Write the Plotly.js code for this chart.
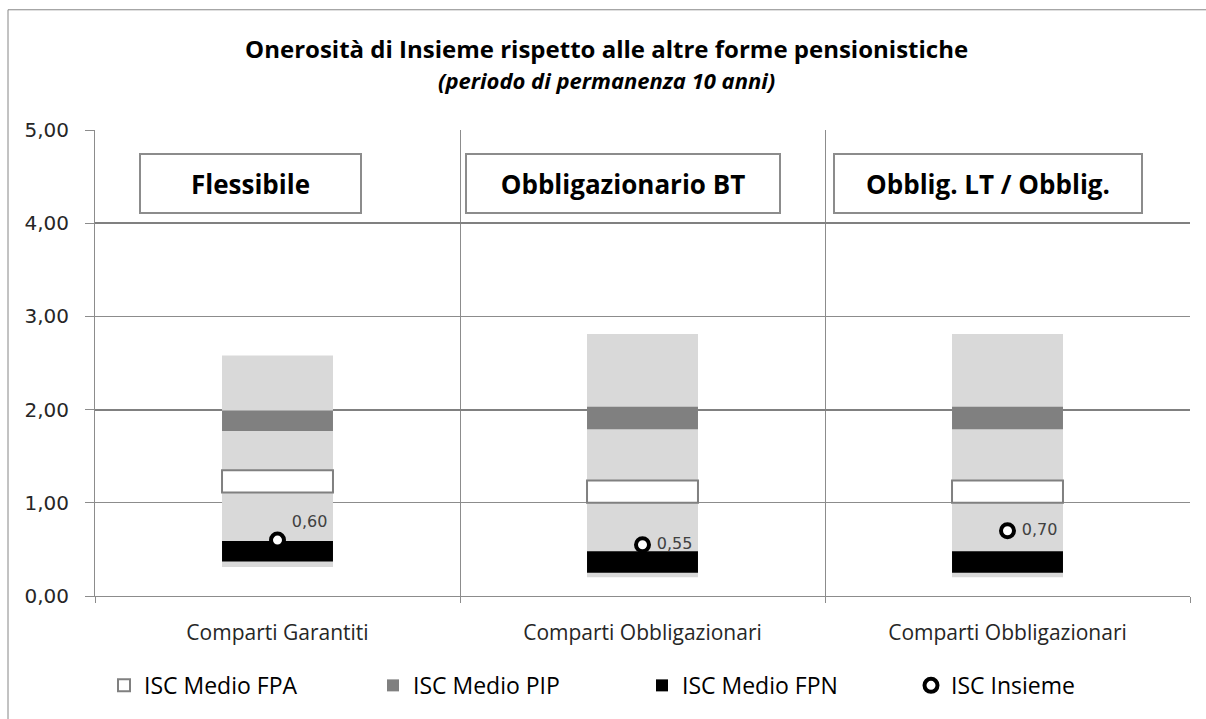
<!DOCTYPE html>
<html>
<head>
<meta charset="utf-8">
<script src="https://cdn.plot.ly/plotly-3.0.1.min.js"></script>
<style>html,body{margin:0;padding:0;background:#fff;}#chart{width:1206px;height:719px;}</style>
</head>
<body>
<div id="chart"></div>
<script>
// ---- data ----
const categories = ['Comparti Garantiti', 'Comparti Obbligazionari', 'Comparti Obbligazionari'];
const boxLabels = ['Flessibile', 'Obbligazionario BT', 'Obblig. LT / Obblig.'];
const rangeMin = [0.31, 0.20, 0.20];
const rangeMax = [2.58, 2.81, 2.81];
const fpaLow  = [1.11, 1.00, 1.00];
const fpaHigh = [1.35, 1.24, 1.24];
const pipLow  = [1.77, 1.79, 1.79];
const pipHigh = [1.99, 2.03, 2.03];
const fpnLow  = [0.37, 0.25, 0.25];
const fpnHigh = [0.59, 0.48, 0.48];
const insieme = [0.60, 0.55, 0.70];
const yTicks = [0, 1, 2, 3, 4, 5];
const yMajor = [2, 4];

const xs = categories.map((c, i) => i);
const diff = (hi, lo) => hi.map((v, i) => +(v - lo[i]).toFixed(3));
const BW = 0.304;

const traces = [
  {type: 'bar', x: xs, y: diff(rangeMax, rangeMin), base: rangeMin, width: BW,
   marker: {color: '#d9d9d9'}, showlegend: false, hoverinfo: 'skip'},
  {type: 'bar', name: 'ISC Medio FPA', x: xs, y: diff(fpaHigh, fpaLow), base: fpaLow, width: BW,
   marker: {color: '#ffffff', line: {color: '#808080', width: 2}}},
  {type: 'bar', name: 'ISC Medio PIP', x: xs, y: diff(pipHigh, pipLow), base: pipLow, width: BW,
   marker: {color: '#808080', line: {width: 0}}},
  {type: 'bar', name: 'ISC Medio FPN', x: xs, y: diff(fpnHigh, fpnLow), base: fpnLow, width: BW,
   marker: {color: '#000000', line: {width: 0}}},
  {type: 'scatter', mode: 'markers+text', name: 'ISC Insieme', x: xs, y: insieme,
   marker: {symbol: 'circle', size: 13, color: '#ffffff', line: {color: '#000000', width: 4}},
   texttemplate: ' %{y:.2f}', textposition: ['top right', 'middle right', 'middle right'],
   textfont: {family: 'DejaVu Sans', size: 16, color: '#404040'}, cliponaxis: false}
];

const L = 95, R = 1190, T = 130, B = 599;
const px2x = p => (p - L) / (R - L);
const px2y = p => (B - p) / (B - T);
const boxCenters = [250.5, 623, 987.7];
const boxWidths = [219, 312, 306];

const annotations = boxLabels.map((t, i) => ({
  text: '<b>' + t + '</b>', xref: 'paper', yref: 'paper',
  x: px2x(boxCenters[i]), y: px2y(184), xanchor: 'center', yanchor: 'middle',
  showarrow: false, width: boxWidths[i], height: 57, borderpad: 0,
  bordercolor: '#8c8c8c', borderwidth: 2, bgcolor: '#ffffff',
  font: {family: 'Open Sans', size: 26, color: '#000000'}
}));

const layout = {
  width: 1206, height: 719,
  margin: {l: L, r: 1206 - R, t: T, b: 719 - B, pad: 0},
  paper_bgcolor: '#ffffff', plot_bgcolor: '#ffffff',
  separators: ',.',
  barmode: 'overlay',
  hovermode: false,
  title: {
    text: '<b>Onerosità di Insieme rispetto alle altre forme pensionistiche</b><br><b><i><span style="font-size:22px">(periodo di permanenza 10 anni)</span></i></b>',
    font: {family: 'Open Sans', size: 24, color: '#000000'},
    xref: 'container', x: 0.503, xanchor: 'center',
    yref: 'container', y: 1 - 58 / 719, yanchor: 'top'
  },
  xaxis: {
    range: [-0.5, 2.5], tickmode: 'array', tickvals: xs, ticktext: categories,
    ticks: '', showgrid: false, zeroline: false,
    showline: true, linecolor: '#8c8c8c', linewidth: 1,
    tickfont: {family: 'Open Sans', size: 21, color: '#262626'},
    ticklabelstandoff: 18,
    minor: {tick0: -0.5, dtick: 1, ticks: 'outside', ticklen: 6, tickcolor: '#8c8c8c',
            showgrid: true, gridcolor: '#8c8c8c', gridwidth: 1},
    fixedrange: true
  },
  yaxis: {
    range: [0, 5], tickmode: 'array', tickvals: yTicks, tickformat: '.2f',
    ticks: 'outside', ticklen: 9, tickcolor: '#8c8c8c',
    showgrid: true, gridcolor: '#8c8c8c', gridwidth: 1, zeroline: false,
    showline: true, linecolor: '#8c8c8c', linewidth: 1,
    tickfont: {family: 'DejaVu Sans', size: 20, color: '#262626'},
    ticklabelstandoff: 12, fixedrange: true
  },
  yaxis2: {
    overlaying: 'y', range: [0, 5], tickmode: 'array', tickvals: yMajor,
    showticklabels: false, ticks: '', showgrid: true, gridcolor: '#808080', gridwidth: 2,
    zeroline: false, showline: false, fixedrange: true
  },
  legend: {
    orientation: 'h', xref: 'paper', yref: 'paper',
    x: px2x(104), xanchor: 'left', y: px2y(689), yanchor: 'middle',
    entrywidth: 224, entrywidthmode: 'pixels',
    font: {family: 'Open Sans', size: 23, color: '#000000'},
    traceorder: 'normal', bgcolor: 'rgba(0,0,0,0)'
  },
  shapes: [
    {type: 'rect', xref: 'paper', yref: 'paper', x0: px2x(8), x1: px2x(1230), y0: px2y(740), y1: px2y(9),
     line: {color: '#868686', width: 1}, fillcolor: 'rgba(0,0,0,0)', layer: 'below'}
  ],
  annotations: annotations
};

// invisible helper so the overlay axis (heavier gridlines at 2 and 4) is drawn
traces.push({type: 'scatter', x: [0], y: [0], yaxis: 'y2', mode: 'markers',
             marker: {opacity: 0}, showlegend: false, hoverinfo: 'skip'});

Plotly.newPlot('chart', traces, layout, {displayModeBar: false, staticPlot: true});
</script>
</body>
</html>
